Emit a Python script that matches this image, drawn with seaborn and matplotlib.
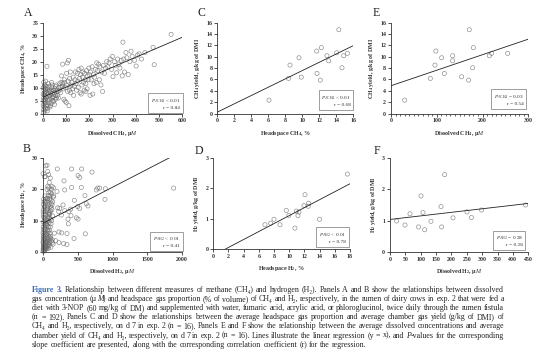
import matplotlib
matplotlib.use("Agg")
import matplotlib.pyplot as plt
import seaborn as sns
from matplotlib.ticker import MultipleLocator

# --- data ---
# A: dissolved CH4 (uM) vs headspace CH4 (%)
a_x = [2, 3, 5, 1, 4, 6, 2, 8, 3, 10, 5, 1, 7, 12, 4, 9, 2, 14, 6, 3, 11, 8, 12, 15, 13, 10, 14, 7, 15, 11, 5,
       17, 18, 20, 22, 25, 19, 28, 24, 30, 21, 33, 26, 35, 20, 38, 27, 40, 42, 36, 45, 48, 50, 44, 52, 55, 58,
       46, 32, 30, 39, 53, 57, 23, 29, 34, 41, 47, 54, 60, 37, 50,
       62, 65, 68, 70, 72, 75, 78, 80, 82, 85, 85, 88, 90, 92, 95, 97, 100, 100, 102, 105, 108, 110, 112, 114,
       115, 117, 118, 120, 66, 76, 93, 106,
       122, 125, 128, 130, 132, 135, 138, 140, 142, 145, 148, 150, 152, 155, 158, 160, 162, 165, 168, 170, 172,
       175, 178, 180, 182, 185, 188, 190, 192, 195, 198, 200, 165, 185,
       203, 205, 208, 212, 215, 218, 220, 223, 226, 230, 232, 235, 240, 243, 246, 250, 253, 257, 260, 265, 270,
       275, 280, 285, 290, 296,
       300, 302, 308, 312, 318, 322, 328, 332, 338, 342, 345, 348, 352, 358, 362, 368, 375, 385, 395,
       402, 408, 415, 425, 440, 475, 480, 553, 380]
a_y = [0.5, 1.5, 2.5, 3, 3.8, 4.5, 5, 5.5, 6, 6.5, 7, 7.5, 8, 8.5, 9, 9.5, 10, 10.5, 11, 12, 12.5, 1, 2, 3, 4.2,
       5.2, 6.2, 7.2, 8, 9.2, 10.2,
       18.2, 1, 2, 3, 4, 5, 5.5, 6.5, 7, 7.5, 8, 8.5, 9, 9.5, 10, 10.5, 6, 5, 4, 6.5, 7.5, 8, 9, 9.5, 7, 6,
       4.5, 3, 2.5, 11, 10.5, 11, 11.5, 9, 6, 7.8, 8.8, 5.5, 9, 12, 3.5,
       7, 8.5, 10, 9, 11.5, 8, 12, 14.5, 10.5, 19, 11.5, 9.5, 5.5, 13, 4.8, 10, 4.3, 11, 15.5, 19.5, 12.5, 20.5,
       3, 9, 13.5, 10.5, 16, 8, 6, 10, 12, 8.5,
       11, 12, 9.5, 14, 7, 10.5, 13, 16, 11.5, 9, 15.5, 12.5, 10, 17, 13.5, 8, 15, 17.5, 11, 14, 16, 12, 9,
       15.5, 13, 11.5, 16.5, 9.5, 14.5, 13, 17.5, 15, 7.5, 8.5,
       7, 16, 13, 18, 7.5, 15, 11.5, 14, 17, 12, 19.5, 16.5, 19, 13, 18, 11, 16, 8.5, 18.5, 15.5, 17.5, 20,
       18, 19.5, 21, 17,
       22, 14.2, 20, 18.5, 15.7, 21, 19, 17.5, 20.5, 14.5, 27.5, 21, 16, 23.5, 21.5, 15, 20, 22, 20.5,
       18.3, 22.5, 23, 21, 23.5, 25.5, 18.8, 30.5, 24]

# B: dissolved H2 (uM) vs headspace H2 (%)
b_x = [2, 5, 8, 3, 12, 6, 15, 4, 10, 7, 1, 9, 14, 3, 11, 6, 18, 2, 13, 8, 5, 16, 4, 19, 7, 12, 3, 10, 17, 6,
       14, 9, 20, 1,
       22, 35, 28, 45, 25, 40, 32, 48, 21, 38, 30, 44, 26, 42, 34, 47, 23, 37, 29, 50, 24, 41, 33, 46, 27, 39,
       31, 43, 36, 49, 22, 44, 30, 38,
       52, 60, 70, 80, 55, 65, 75, 85, 58, 68, 78, 53, 63, 73, 83, 57, 67, 77, 54, 64, 74, 84, 59, 69, 79, 56,
       66, 76, 61, 71, 81, 62, 72, 82,
       88, 95, 100, 110, 120, 92, 105, 115, 125, 90, 98, 108, 118, 130, 140, 94, 102, 112, 122, 135, 145, 96,
       106, 116, 126, 150, 89, 99, 109, 119, 128, 138, 148, 112,
       412, 556, 206, 705, 504, 528, 302, 552, 412, 312, 604, 767, 787, 815, 897, 892, 623, 647, 528, 499, 398,
       374, 403, 360, 364, 480, 504, 451, 609, 345, 230, 269, 163, 105, 134, 182, 230, 297, 345, 446, 211,
       240, 288, 312, 264, 225, 153, 201, 129, 82, 105, 91, 58, 67, 34, 1880]
b_y = [0.24, 0.48, 0.8, 1.04, 1.28, 1.6, 1.92, 2.24, 2.56, 2.88, 3.2, 3.6, 4.0, 4.4, 4.8, 5.2, 5.6, 6.0, 6.4,
       7.2, 8.0, 8.8, 9.6, 10.4, 11.2, 12.0, 12.8, 13.6, 14.4, 15.2, 16.0, 16.8, 24.0, 25.0,
       0.4, 0.9, 1.3, 1.7, 2.1, 2.6, 3.0, 3.4, 4.3, 5.1, 6.0, 6.8, 7.7, 8.5, 9.4, 10.2, 11.1, 11.9, 12.8, 13.6,
       14.5, 15.3, 16.2, 17.0, 17.9, 27.5, 1.0, 1.9, 3.8, 5.5, 7.2, 8.9, 1.5, 3.2,
       1.0, 1.5, 2.0, 2.5, 3.0, 3.5, 4.0, 5.0, 6.0, 7.0, 8.0, 9.0, 10.0, 11.0, 12.0, 13.0, 14.0, 15.0, 16.0,
       17.0, 18.0, 19.0, 20.0, 21.0, 1.2, 2.8, 4.5, 6.5, 8.5, 10.5, 12.5, 14.5, 16.5, 20.5,
       2.0, 3.0, 4.5, 5.0, 3.5, 7.0, 8.0, 9.0, 10.0, 11.0, 12.0, 13.0, 14.0, 15.0, 16.0, 17.0, 18.0, 19.0, 20.0,
       3.0, 2.5, 12.5, 14.5, 16.5, 18.5, 20.5, 9.5, 6.0, 10.5, 15.5, 13.5, 11.5, 17.5, 1.5,
       26.5, 26.5, 26.5, 25.5, 24.4, 23.8, 22.7, 20.6, 20.6, 19.8, 18.0, 19.8, 20.4, 20.4, 20.2, 16.8, 15.4,
       14.7, 13.9, 14.5, 13.7, 12.9, 11.6, 10.5, 9.0, 10.9, 10.5, 16.5, 5.8, 5.9, 6.4, 6.1, 6.0, 4.3, 3.9, 3.6,
       3.0, 2.7, 2.4, 4.3, 14.1, 13.9, 15.0, 13.2, 11.8, 12.9, 17.9, 19.3, 20.9, 24.7, 23.6, 22.2, 27.7, 25.7,
       24.1, 20.4]

# C: headspace CH4 (%) vs CH4 yield (g/kg DMI)
c_x = [6.08, 8.55, 8.39, 9.61, 9.88, 11.69, 11.73, 12.24, 12.12, 12.9, 13.1, 14.04, 14.3, 14.67, 14.86, 15.3]
c_y = [2.35, 8.53, 6.18, 9.82, 6.41, 11.0, 7.06, 11.6, 5.88, 10.18, 9.29, 10.7, 14.76, 8.06, 10.18, 10.6]

# D: headspace H2 (%) vs H2 yield (g/kg DMI)
d_x = [6.8, 7.55, 7.99, 8.78, 9.61, 9.96, 10.75, 10.93, 11.15, 11.28, 11.94, 12.07, 12.5, 12.55, 14.0, 17.65]
d_y = [0.80, 0.85, 0.98, 0.80, 1.27, 1.11, 0.69, 1.25, 1.10, 1.22, 1.43, 1.79, 1.41, 1.51, 0.98, 2.47]

# E: dissolved CH4 (uM) vs CH4 yield
e_x = [29.9, 86, 96, 98, 110.7, 116.5, 134.7, 134.7, 154.4, 169.7, 171, 178.4, 180, 214.9, 220, 255]
e_y = [2.35, 6.18, 8.53, 11.0, 9.82, 7.06, 10.18, 9.29, 6.47, 5.88, 14.76, 8.06, 11.6, 10.18, 10.6, 10.6]

# F: dissolved H2 (uM) vs H2 yield
f_x = [21.7, 48.8, 65, 93, 100.9, 107.4, 112.8, 133.4, 166, 168, 177.9, 205, 250.5, 264.6, 298, 441]
f_y = [0.99, 0.86, 1.22, 0.80, 1.79, 1.26, 0.71, 0.98, 1.45, 0.80, 2.47, 1.09, 1.28, 1.10, 1.34, 1.50]

sns.set_style("ticks")
plt.rcParams["font.family"] = ["Liberation Serif", "DejaVu Serif"]
plt.rcParams["mathtext.fontset"] = "custom"
plt.rcParams["mathtext.rm"] = "Liberation Serif"
plt.rcParams["mathtext.it"] = "Liberation Serif:italic"
plt.rcParams["mathtext.bf"] = "Liberation Serif:bold"

W, H = 554, 362
fig = plt.figure(figsize=(W / 100, H / 100), dpi=100)

ch4_yield = "CH$_\\mathbf{4}$ yield, g/kg of DMI"
h2_yield = "H$_\\mathbf{2}$ yield, g/kg of DMI"
diss_ch4 = "Dissolved CH$_\\mathbf{4}$, \u00b5$\\mathit{M}$"
diss_h2 = "Dissolved H$_\\mathbf{2}$, \u00b5$\\mathit{M}$"
head_ch4 = "Headspace CH$_\\mathbf{4}$, %"
head_h2 = "Headspace H$_\\mathbf{2}$, %"

panels = [
    ("A", (43, 22.7, 182, 113.5), a_x, a_y, 600, 100, 35, 5, diss_ch4, head_ch4,
     "$P_{\\mathrm{ACH4}}$ < 0.01\nr = 0.84", (0.986, 0.04), (28, 13)),
    ("B", (43, 158, 182, 252), b_x, b_y, 2000, 500, 30, 10, diss_h2, head_h2,
     "$P_{\\mathrm{AH2}}$ < 0.01\nr = 0.41", (0.986, 0.04), (26.5, 149)),
    ("C", (217.3, 22.7, 353.3, 113.5), c_x, c_y, 16, 2, 16, 2, head_ch4, ch4_yield,
     "$P_{\\mathrm{ACH4}}$ < 0.01\nr = 0.68", (0.98, 0.07), (201.5, 12.5)),
    ("D", (213.3, 158, 350, 249), d_x, d_y, 18, 2, 3, 1, head_h2, h2_yield,
     "$P_{\\mathrm{AH2}}$ < 0.01\nr = 0.78", (0.97, 0.055), (199, 151.5)),
    ("E", (391, 22.7, 528.3, 113.5), e_x, e_y, 300, 100, 16, 2, diss_ch4, ch4_yield,
     "$P_{\\mathrm{ACH4}}$ = 0.03\nr = 0.54", (0.966, 0.08), (376.5, 12.5)),
    ("F", (390, 158, 528.3, 252), f_x, f_y, 450, 50, 3, 1, diss_h2, h2_yield,
     "$P_{\\mathrm{AH2}}$ = 0.28\nr = 0.28", (0.96, 0.05), (376.5, 151)),
]

for letter, (l, t, r, b), xs, ys, xmax, xstep, ymax, ystep, xlab, ylab, stat, spos, lpos in panels:
    ax = fig.add_axes([l / W, 1 - b / H, (r - l) / W, (b - t) / H])
    ax.set_xlim(0, xmax)
    ax.set_ylim(0, ymax)
    sns.regplot(x=xs, y=ys, ax=ax, ci=None, truncate=False,
                scatter_kws=dict(s=9, facecolors="none", edgecolors="#6a6a6a", linewidths=0.45, clip_on=False),
                line_kws=dict(color="#222222", lw=0.6))
    ax.set_xlim(0, xmax)
    ax.set_ylim(0, ymax)
    ax.xaxis.set_major_locator(MultipleLocator(xstep))
    ax.yaxis.set_major_locator(MultipleLocator(ystep))
    if letter == "E":
        ax.xaxis.set_minor_locator(MultipleLocator(10))
        ax.tick_params(axis="x", which="minor", length=1.2, width=0.5)
    sns.despine(ax=ax)
    for s in ("left", "bottom"):
        ax.spines[s].set_linewidth(0.6)
        ax.spines[s].set_color("#333333")
    ax.tick_params(which="major", length=2, width=0.6, pad=1.5, labelsize=4.2, colors="#333333")
    plt.setp(ax.get_xticklabels() + ax.get_yticklabels(), fontweight="bold")
    ax.set_xlabel(xlab, fontsize=4.3, fontweight="bold", labelpad=4, color="#333333")
    ax.set_ylabel(ylab, fontsize=4.3, fontweight="bold", labelpad=3, color="#333333")
    ax.text(spos[0], spos[1], stat, transform=ax.transAxes, ha="right", va="bottom",
            fontsize=3.8, linespacing=1.3, color="#333333",
            bbox=dict(boxstyle="square,pad=0.5", fc="white", ec="#777777", lw=0.5))
    fig.text(lpos[0] / W, 1 - lpos[1] / H, letter, fontsize=8.5, ha="center", va="center", color="#222222")

# --- caption, justified line by line (*...* = italic) ---
caption = [
    "Figure 3. Relationship between different measures of methane (CH\u2084) and hydrogen (H\u2082). Panels A and B show the relationships between dissolved",
    "gas concentration (\u00b5*M*) and headspace gas proportion (% of volume) of CH\u2084 and H\u2082, respectively, in the rumen of dairy cows in exp. 2 that were fed a",
    "diet with 3-NOP (60 mg/kg of DM) and supplemented with water, fumaric acid, acrylic acid, or phloroglucinol, twice daily through the rumen fistula",
    "(n = 192). Panels C and D show the relationships between the average headspace gas proportion and average chamber gas yield (g/kg of DMI) of",
    "CH\u2084 and H\u2082, respectively, on d 7 in exp. 2 (n = 16). Panels E and F show the relationship between the average dissolved concentrations and average",
    "chamber yield of CH\u2084 and H\u2082, respectively, on d 7 in exp. 2 (n = 16). Lines illustrate the linear regression (y = x), and *P*-values for the corresponding",
    "slope coefficient are presented, along with the corresponding correlation coefficient (r) for the regression.",
]
baselines = [291.5, 300.7, 309.9, 319.1, 328.3, 337.5, 346.7]
x0, x1 = 32, 504
fsz = 5.7
renderer = fig.canvas.get_renderer()
for i, (line, yy) in enumerate(zip(caption, baselines)):
    words = []
    for j, w in enumerate(line.split(" ")):
        blue = (i == 0 and j < 2)
        parts = []
        for k, piece in enumerate(w.split("*")):
            if not piece:
                continue
            t = fig.text(0, 1 - yy / H, piece, fontsize=fsz, va="baseline", ha="left",
                         color="#3b6fb6" if blue else "#222222",
                         fontweight="bold" if blue else "normal",
                         fontstyle="italic" if k % 2 else "normal")
            parts.append((t, t.get_window_extent(renderer).width))
        words.append(parts)
    widths = [sum(wd for _, wd in p) for p in words]
    if i < len(caption) - 1:
        gap = (x1 - x0 - sum(widths)) / (len(words) - 1)
    else:
        gap = fsz * 100 / 72 * 0.25
    xpos = x0
    for parts, wd in zip(words, widths):
        px = xpos
        for t, pw in parts:
            t.set_x(px / W)
            px += pw
        xpos += wd + gap

fig.savefig("out.png", dpi=100)
